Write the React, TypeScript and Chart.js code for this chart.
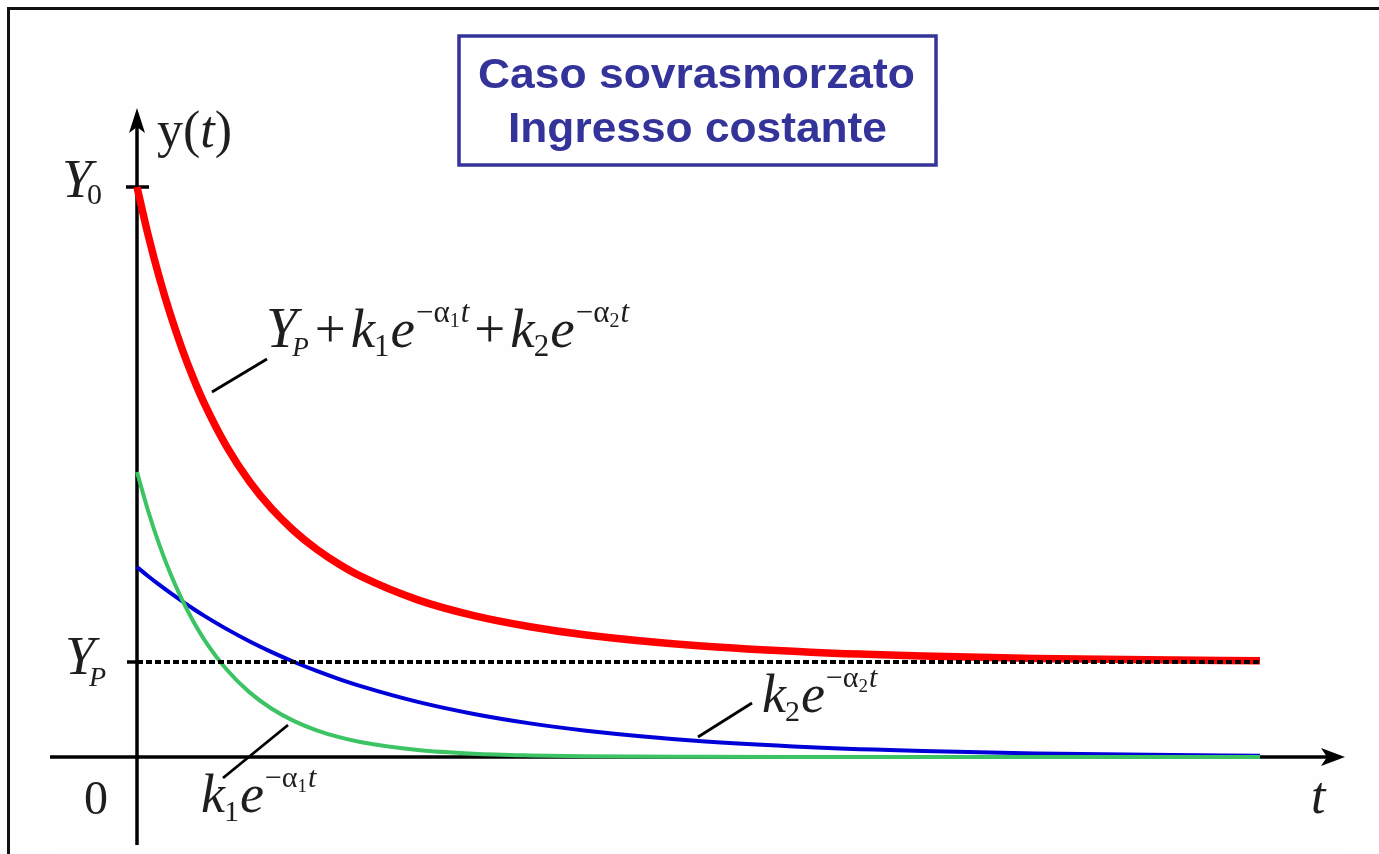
import React, { useEffect, useRef } from "react";
import { Chart, registerables } from "chart.js";

Chart.register(...registerables);

// ---- data (time in arbitrary units, output in units of Y_P) ----
const timeValues = [0, 0.1, 0.2, 0.3, 0.4, 0.5, 0.6, 0.8, 1.0, 1.2, 1.4, 1.6, 1.8, 2.0, 2.5, 3.0, 3.5, 4, 5, 6, 7, 8, 9, 10];
const totalResponse = [6.0, 5.49, 5.042, 4.648, 4.301, 3.992, 3.72, 3.264, 2.902, 2.612, 2.378, 2.187, 2.029, 1.898, 1.654, 1.488, 1.371, 1.284, 1.17, 1.103, 1.063, 1.038, 1.023, 1.014];
const fastMode = [3.0, 2.587, 2.231, 1.924, 1.66, 1.431, 1.234, 0.918, 0.683, 0.508, 0.378, 0.281, 0.209, 0.155, 0.074, 0.035, 0.017, 0.008, 0.002, 0, 0, 0, 0, 0];
const slowMode = [2.0, 1.903, 1.811, 1.724, 1.641, 1.561, 1.486, 1.346, 1.219, 1.104, 1.0, 0.906, 0.82, 0.743, 0.58, 0.453, 0.354, 0.276, 0.168, 0.103, 0.063, 0.038, 0.023, 0.014];
const initialValue = 6; // Y0
const steadyValue = 1; // YP
const tEnd = 10;
const titleLines = ["Caso sovrasmorzato", "Ingresso costante"];

const W = 1379;
const H = 854;
const SERIF = '"Liberation Serif", "Times New Roman", serif';
const SANS = '"Liberation Sans", Arial, sans-serif';

type Seg = { t: string; size: number; italic?: boolean; dy?: number; dx?: number };

function drawRich(ctx: CanvasRenderingContext2D, x: number, y: number, segs: Seg[]) {
  let cx = x;
  for (const s of segs) {
    ctx.font = `${s.italic ? "italic " : ""}${s.size}px ${SERIF}`;
    cx += s.dx || 0;
    ctx.fillText(s.t, cx, y + (s.dy || 0));
    cx += ctx.measureText(s.t).width;
  }
  return cx;
}

function expTerm(k: string, a: string, main: number): Seg[] {
  const sub = Math.round(main * 0.56);
  const sup = Math.round(main * 0.56);
  const ss = Math.round(main * 0.36);
  return [
    { t: "k", size: main, italic: true },
    { t: k, size: sub, dy: main * 0.16, dx: -1 },
    { t: "e", size: main, italic: true, dx: 1 },
    { t: "\u2212\u03b1", size: sup, dy: -main * 0.46, dx: 1 },
    { t: a, size: ss, dy: -main * 0.37 },
    { t: "t", size: sup, italic: true, dy: -main * 0.46, dx: 1 },
  ];
}

function line(ctx: CanvasRenderingContext2D, x1: number, y1: number, x2: number, y2: number) {
  ctx.beginPath();
  ctx.moveTo(x1, y1);
  ctx.lineTo(x2, y2);
  ctx.stroke();
}

const decorPlugin = {
  id: "decor",
  beforeDraw(chart: any) {
    const ctx: CanvasRenderingContext2D = chart.ctx;
    ctx.save();
    ctx.fillStyle = "#ffffff";
    ctx.fillRect(0, 0, W, H);
    ctx.fillStyle = "#fefefe";
    ctx.fillRect(50, 105, 1295, H - 105);
    ctx.strokeStyle = "#111111";
    ctx.lineWidth = 3;
    ctx.strokeRect(8.5, 8.5, 1500, 1000);
    ctx.restore();
  },
  beforeDatasetsDraw(chart: any) {
    const ctx: CanvasRenderingContext2D = chart.ctx;
    const xs = chart.scales.x;
    const ys = chart.scales.y;
    const area = chart.chartArea;
    const x0 = xs.getPixelForValue(0);
    const y0 = ys.getPixelForValue(0);
    const yY0 = ys.getPixelForValue(initialValue);
    const yYP = ys.getPixelForValue(steadyValue);
    ctx.save();
    ctx.strokeStyle = "#000";
    ctx.fillStyle = "#000";
    ctx.lineWidth = 3.5;
    // y axis
    line(ctx, x0, area.bottom, x0, area.top + 20);
    ctx.beginPath();
    ctx.moveTo(x0, area.top + 8);
    ctx.lineTo(x0 - 8, area.top + 33);
    ctx.lineTo(x0, area.top + 27);
    ctx.lineTo(x0 + 8, area.top + 33);
    ctx.closePath();
    ctx.fill();
    // x axis
    line(ctx, area.left, y0, area.right - 15, y0);
    ctx.beginPath();
    ctx.moveTo(area.right, y0);
    ctx.lineTo(area.right - 24, y0 - 9);
    ctx.lineTo(area.right - 18, y0);
    ctx.lineTo(area.right - 24, y0 + 9);
    ctx.closePath();
    ctx.fill();
    // ticks
    line(ctx, x0 - 11, yY0, x0 + 12, yY0);
    line(ctx, x0 - 10, yYP, x0, yYP);
    ctx.restore();
  },
  afterDatasetsDraw(chart: any) {
    const ctx: CanvasRenderingContext2D = chart.ctx;
    const xs = chart.scales.x;
    const ys = chart.scales.y;
    const x0 = xs.getPixelForValue(0);
    const xEnd = xs.getPixelForValue(tEnd);
    const yYP = ys.getPixelForValue(steadyValue);
    ctx.save();
    // dashed steady-state line
    ctx.strokeStyle = "#000";
    ctx.lineWidth = 4;
    ctx.setLineDash([6, 3]);
    line(ctx, x0, yYP, xEnd, yYP);
    ctx.setLineDash([]);

    // leader lines
    ctx.lineWidth = 2.8;
    line(ctx, 212, 392, 267, 359);
    line(ctx, 698, 737, 752, 703);
    line(ctx, 223, 778, 288, 725);

    // axis labels
    ctx.fillStyle = "#1e1e1e";
    ctx.textBaseline = "alphabetic";
    ctx.textAlign = "left";
    drawRich(ctx, 62, 197, [
      { t: "Y", size: 54, italic: true },
      { t: "0", size: 30, dy: 7, dx: -5 },
    ]);
    drawRich(ctx, 65, 674, [
      { t: "Y", size: 54, italic: true },
      { t: "P", size: 28, italic: true, dy: 12, dx: -6 },
    ]);
    drawRich(ctx, 157, 147, [
      { t: "y(", size: 52 },
      { t: "t", size: 52, italic: true },
      { t: ")", size: 52 },
    ]);
    drawRich(ctx, 84, 814, [{ t: "0", size: 48 }]);
    drawRich(ctx, 1311, 813, [{ t: "t", size: 52, italic: true }]);

    // curve labels
    drawRich(ctx, 266, 347, [
      { t: "Y", size: 56, italic: true },
      { t: "P", size: 27, italic: true, dy: 9, dx: -5 },
      { t: "+", size: 55, dx: 6 },
      { t: "", size: 55, dx: 5 },
      ...expTerm("1", "1", 55),
      { t: "+", size: 55, dx: 5 },
      { t: "", size: 55, dx: 5 },
      ...expTerm("2", "2", 55),
    ]);
    drawRich(ctx, 762, 712, expTerm("2", "2", 54));
    drawRich(ctx, 201, 812, expTerm("1", "1", 54));

    // title box
    const bx = 459, by = 36, bw = 477, bh = 129;
    ctx.fillStyle = "#ffffff";
    ctx.fillRect(bx, by, bw, bh);
    ctx.strokeStyle = "#333399";
    ctx.lineWidth = 3.5;
    ctx.strokeRect(bx, by, bw, bh);
    ctx.fillStyle = "#333399";
    ctx.font = `bold 42px ${SANS}`;
    const targets = [
      { x: 478, y: 88, w: 437 },
      { x: 508, y: 142, w: 379 },
    ];
    titleLines.forEach((txt, i) => {
      const m = ctx.measureText(txt).width;
      const sx = targets[i].w / m;
      ctx.save();
      ctx.translate(targets[i].x, targets[i].y);
      ctx.scale(sx, 1);
      ctx.fillText(txt, 0, 0);
      ctx.restore();
    });
    ctx.restore();
  },
};

export default function App() {
  const ref = useRef<HTMLCanvasElement | null>(null);
  useEffect(() => {
    if (!ref.current) return;
    // pixel layout of the plotting frame
    const left = 50, right = 1345, top = 100, bottom = 845;
    const xZero = 137, xTen = 1260, yZero = 757, yUnit = 95;
    const pxPerT = (xTen - xZero) / tEnd;
    const toPts = (arr: number[]) => timeValues.map((t, i) => ({ x: t, y: arr[i] }));
    const chart = new Chart(ref.current, {
      type: "line",
      data: {
        datasets: [
          {
            label: "Y_P + k1 e^(-a1 t) + k2 e^(-a2 t)",
            data: toPts(totalResponse),
            borderColor: "#ff0000",
            borderWidth: 7.5,
            pointRadius: 0,
            cubicInterpolationMode: "monotone",
            fill: false,
          },
          {
            label: "k1 e^(-a1 t)",
            data: toPts(fastMode),
            borderColor: "#3cc464",
            borderWidth: 4,
            pointRadius: 0,
            cubicInterpolationMode: "monotone",
            fill: false,
          },
          {
            label: "k2 e^(-a2 t)",
            data: toPts(slowMode),
            borderColor: "#0000d8",
            borderWidth: 4,
            pointRadius: 0,
            cubicInterpolationMode: "monotone",
            fill: false,
          },
        ],
      },
      options: {
        animation: false,
        responsive: false,
        maintainAspectRatio: false,
        events: [],
        layout: { padding: { left, right: W - right, top, bottom: H - bottom } },
        plugins: { legend: { display: false }, tooltip: { enabled: false }, title: { display: false } },
        scales: {
          x: {
            type: "linear",
            display: false,
            min: (left - xZero) / pxPerT,
            max: (right - xZero) / pxPerT,
          },
          y: {
            type: "linear",
            display: false,
            min: -(bottom - yZero) / yUnit,
            max: (yZero - top) / yUnit,
          },
        },
      },
      plugins: [decorPlugin],
    });
    return () => chart.destroy();
  }, []);
  return (
    <div style={{ position: "absolute", left: 0, top: 0, width: W, height: H, background: "#fff" }}>
      <canvas ref={ref} width={W} height={H} style={{ display: "block" }} />
    </div>
  );
}
